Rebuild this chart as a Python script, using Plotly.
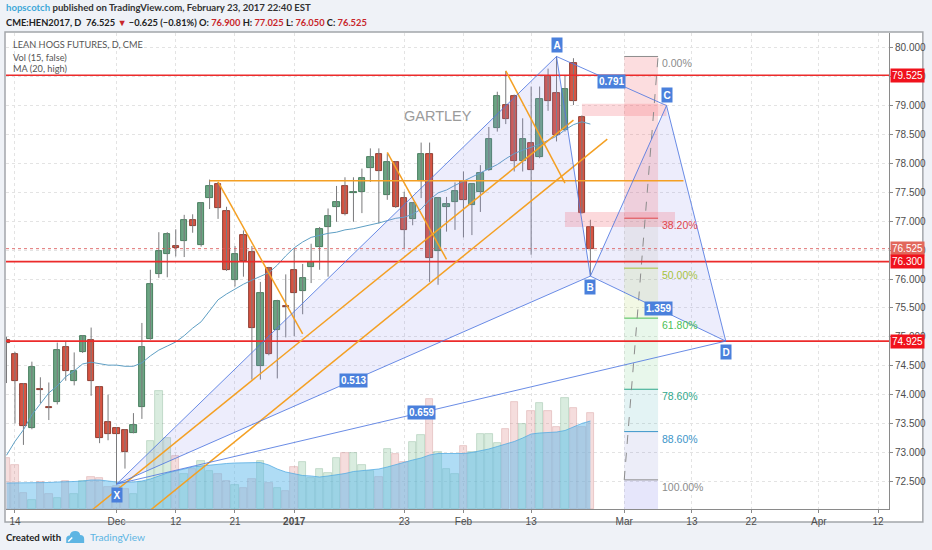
import plotly.graph_objects as go
import pandas as pd

# ---------------------------------------------------------------- data
holidays = ["2016-11-24", "2016-12-26", "2017-01-02", "2017-01-16", "2017-02-20"]
first_day, last_day = "2016-11-11", "2017-02-23"

opens = [74.95, 74.70, 74.18, 73.43, 74.10, 73.78, 73.88, 74.83, 74.24, 74.74,
         74.94, 74.13, 73.52, 73.42, 73.39, 73.34, 73.79, 74.97, 76.08, 76.43,
         76.56, 76.66, 77.02, 76.58, 77.41, 77.64, 77.18, 75.98, 76.76, 76.46,
         74.49, 76.19, 75.11, 75.53, 76.15, 75.80, 76.20, 76.55, 76.90, 77.25,
         77.61, 77.48, 77.51, 77.92, 78.16, 77.45, 78.02, 77.41, 77.03, 77.70,
         78.16, 76.48, 77.25, 77.33, 77.70, 77.28, 77.51, 77.89, 78.62, 79.01,
         79.17, 78.05, 78.36, 78.11, 79.51, 79.21, 78.57, 79.74, 78.81, 76.90]
highs = [75.00, 74.74, 74.20, 74.57, 74.30, 74.21, 74.90, 74.92, 74.73, 75.03,
         75.16, 74.15, 74.00, 73.44, 73.40, 73.68, 75.24, 76.16, 76.81, 76.81,
         76.86, 77.11, 77.12, 77.33, 77.72, 77.68, 77.25, 76.57, 76.84, 76.57,
         75.95, 76.21, 75.64, 76.08, 76.53, 76.26, 76.61, 76.90, 77.22, 77.61,
         77.76, 77.76, 77.91, 78.26, 78.26, 78.17, 78.04, 77.51, 77.33, 78.36,
         78.36, 77.42, 77.42, 77.67, 77.86, 77.65, 77.97, 78.63, 79.24, 79.60,
         79.19, 78.78, 79.33, 79.33, 79.64, 79.85, 79.53, 79.82, 78.83, 77.025]
lows = [74.20, 73.50, 73.13, 73.40, 73.85, 73.56, 73.83, 74.24, 74.16, 74.72,
        73.98, 73.16, 73.21, 72.45, 72.72, 73.33, 73.58, 74.95, 76.02, 76.03,
        76.39, 76.38, 76.80, 76.56, 77.21, 77.04, 76.14, 75.87, 76.04, 74.26,
        74.26, 74.68, 74.28, 74.99, 75.01, 75.39, 75.93, 76.16, 76.04, 76.99,
        77.10, 76.99, 77.14, 77.68, 76.96, 77.37, 77.23, 76.53, 76.93, 77.40,
        75.95, 75.90, 76.82, 76.85, 76.72, 76.76, 77.16, 77.87, 78.55, 78.68,
        77.86, 77.86, 76.42, 78.09, 78.91, 78.38, 78.55, 79.01, 77.13, 76.05]
closes = [74.90, 74.24, 73.46, 74.47, 74.08, 73.76, 74.78, 74.41, 74.40, 75.01,
          74.23, 73.25, 73.31, 73.31, 73.00, 73.47, 74.83, 75.91, 76.48, 76.78,
          76.54, 77.02, 76.92, 77.31, 77.61, 77.22, 76.16, 76.43, 76.31, 75.16,
          75.75, 74.70, 75.62, 75.51, 75.75, 76.01, 76.30, 76.86, 77.09, 77.34,
          77.12, 77.51, 77.74, 78.11, 77.86, 78.02, 77.25, 76.84, 77.31, 78.16,
          76.36, 77.41, 77.30, 77.53, 77.36, 77.64, 77.84, 78.43, 79.17, 78.76,
          78.04, 78.43, 77.89, 79.12, 79.08, 78.49, 79.28, 79.08, 77.15, 76.525]
volume = [5100, 4400, 1560, 930, 2660, 1500, 1100, 2830, 1500, 2760,
          3230, 3100, 2160, 2300, 2000, 1500, 2660, 6830, 11830, 7100,
          5330, 3500, 4000, 4760, 3800, 3500, 2760, 2400, 2100, 3000,
          4800, 2560, 2100, 1760, 4200, 4700, 3100, 4000, 3560, 5100,
          5600, 5600, 4400, 3760, 3230, 5960, 5500, 4700, 6730, 7400,
          11000, 5730, 4000, 3500, 6330, 5660, 7500, 7500, 6560, 8000,
          10700, 8500, 9830, 10600, 9830, 8230, 11100, 10100, 8160, 9560]
vol_ma = [2600, 2600, 2600, 2600, 2650, 2650, 2700, 2700, 2750, 2800,
          2900, 2900, 2800, 2700, 2700, 2700, 2800, 3000, 3300, 3600,
          3800, 4000, 4200, 4300, 4400, 4500, 4550, 4600, 4600, 4650,
          4650, 4400, 4000, 3700, 3500, 3350, 3300, 3200, 3300, 3400,
          3550, 3750, 3850, 3950, 4000, 4200, 4450, 4650, 4900, 5100,
          5400, 5550, 5550, 5550, 5550, 5650, 5800, 6000, 6250, 6500,
          6750, 7100, 7500, 7600, 7650, 7700, 7850, 8200, 8560, 8800]
ma_high = [72.95, 73.19, 73.39, 73.65, 73.84, 74.03, 74.15, 74.31, 74.41, 74.53,
           74.56, 74.53, 74.51, 74.51, 74.49, 74.49, 74.55, 74.67, 74.77, 74.84,
           74.91, 75.02, 75.15, 75.26, 75.45, 75.64, 75.74, 75.83, 75.91, 75.98,
           76.05, 76.11, 76.24, 76.40, 76.54, 76.64, 76.72, 76.76, 76.79, 76.81,
           76.85, 76.87, 76.90, 76.93, 76.97, 77.01, 77.05, 77.07, 77.12, 77.21,
           77.37, 77.49, 77.54, 77.62, 77.69, 77.76, 77.83, 77.90, 77.98, 78.08,
           78.17, 78.23, 78.28, 78.33, 78.40, 78.47, 78.58, 78.67, 78.72, 78.68]

tick_dates = ["2016-11-14", "2016-12-01", "2016-12-12", "2016-12-21", "2017-01-03",
              "2017-01-23", "2017-02-01", "2017-02-13", "2017-03-01", "2017-03-13",
              "2017-03-22", "2017-04-03", "2017-04-12"]
tick_text = ["14", "Dec", "12", "21", "<b>2017</b>", "23", "Feb", "13", "Mar", "13",
             "22", "Apr", "12"]

# gartley XABCD
pt_names = ["X", "A", "B", "C", "D"]
pt_dates = ["2016-12-01", "2017-02-16", "2017-02-23", "2017-03-08", "2017-03-17"]
pt_prices = [72.45, 79.85, 76.05, 79.00, 74.925]
ratio_pairs = [(0, 2), (1, 3), (2, 4), (0, 4)]
ratio_text = ["0.513", "0.791", "1.359", "0.659"]

# fib retracement
fib_dates = ["2017-03-01", "2017-03-07"]
fib_top, fib_bottom = 79.85, 72.525
fib_levels = [0, 0.382, 0.5, 0.618, 0.786, 0.886, 1.0]
fib_names = ["0.00%", "38.20%", "50.00%", "61.80%", "78.60%", "88.60%", "100.00%"]
fib_colors = ["#8c8c8c", "#e0474c", "#a6c23c", "#4cbf55", "#2fa78a", "#3c95c9", "#8c8c8c"]
fib_fills = ["rgba(242,100,110,0.22)", "rgba(170,165,140,0.13)", "rgba(175,210,90,0.16)",
             "rgba(90,200,110,0.14)", "rgba(60,170,175,0.14)", "rgba(100,110,200,0.12)"]

hlines = [79.525, 76.300, 74.925]
last_price = 76.525

orange_lines = [
    ("2016-12-16", 77.70, "2017-03-10", 77.70),
    ("2016-12-19", 77.68, "2017-01-04", 75.05),
    ("2017-01-19", 78.19, "2017-01-30", 76.34),
    ("2017-02-08", 79.60, "2017-02-17", 77.66),
    ("2016-11-28", 71.99, "2017-02-21", 78.75),
    ("2016-12-07", 72.00, "2017-02-27", 78.42),
]
pink_boxes = [
    ("2017-02-22", "2017-03-08", 78.82, 79.03),
    ("2017-02-17", "2017-03-09", 76.90, 77.16),
]

# ---------------------------------------------------------------- calendar
cal = pd.bdate_range("2016-11-01", "2017-04-28")
cal = cal[~cal.isin(pd.to_datetime(holidays))]
origin = cal.get_loc(pd.Timestamp("2016-12-01"))


def pos(d):
    return int(cal.get_loc(pd.Timestamp(d))) - origin


days = cal[(cal >= first_day) & (cal <= last_day)]
xs = [pos(d) for d in days]
assert len(xs) == len(opens) == len(volume) == len(ma_high)

# pixel helpers for paper-placed text
L, R, T, B = 6, 893, 33, 509


def px(x):
    return (x - L) / (R - L)


def py(y):
    return (B - y) / (B - T)


FONT = "Lato"
NUM = "Liberation Sans"
BLUE_LBL = "#4a80dc"
PAT_LINE = "rgba(80,120,225,0.85)"

fig = go.Figure()

# volume (base axis, drawn beneath price)
up = [c >= o for o, c in zip(opens, closes)]
fig.add_trace(go.Bar(
    x=xs, y=volume, width=0.88, yaxis="y",
    marker=dict(color=["rgba(120,185,140,0.28)" if u else "rgba(215,120,120,0.25)" for u in up],
                line=dict(color=["rgba(90,150,110,0.35)" if u else "rgba(190,110,110,0.35)" for u in up],
                          width=0.8)),
    hoverinfo="skip", showlegend=False))
fig.add_trace(go.Scatter(
    x=xs, y=vol_ma, yaxis="y", mode="lines", fill="tozeroy",
    line=dict(color="rgba(80,170,225,0.75)", width=1),
    fillcolor="rgba(95,185,235,0.5)", hoverinfo="skip", showlegend=False))

# candles
wx, wy = [], []
for x, h, l in zip(xs, highs, lows):
    wx += [x, x, None]
    wy += [l, h, None]
fig.add_trace(go.Scatter(x=wx, y=wy, yaxis="y2", mode="lines",
                         line=dict(color="#7a7a7c", width=1),
                         hoverinfo="skip", showlegend=False))
for is_up, fill, edge in [(True, "#6ba583", "#2f6a47"), (False, "#d75442", "#7a2418")]:
    sel = [i for i in range(len(xs)) if up[i] == is_up]
    fig.add_trace(go.Bar(
        x=[xs[i] for i in sel],
        base=[min(opens[i], closes[i]) for i in sel],
        y=[max(abs(closes[i] - opens[i]), 0.025) for i in sel],
        width=0.74, yaxis="y2",
        marker=dict(color=fill, line=dict(color=edge, width=0.8)),
        hoverinfo="skip", showlegend=False))

fig.add_trace(go.Scatter(x=xs, y=ma_high, yaxis="y2", mode="lines",
                         line=dict(color="#5e9fc4", width=1),
                         hoverinfo="skip", showlegend=False))

shapes = []


def dshape(**kw):
    d = dict(xref="x", yref="y2", layer="above")
    d.update(kw)
    shapes.append(d)


# pattern triangles
P = [(pos(d), p) for d, p in zip(pt_dates, pt_prices)]
for a, b, c in [(0, 1, 2), (2, 3, 4)]:
    dshape(type="path",
           path=f"M {P[a][0]},{P[a][1]} L {P[b][0]},{P[b][1]} L {P[c][0]},{P[c][1]} Z",
           fillcolor="rgba(140,140,235,0.16)", line=dict(width=0))

# fib bands
f0, f1 = pos(fib_dates[0]), pos(fib_dates[1])
fib_prices = [fib_top - lv * (fib_top - fib_bottom) for lv in fib_levels]
for i, col in enumerate(fib_fills):
    dshape(type="rect", x0=f0, x1=f1, y0=fib_prices[i + 1], y1=fib_prices[i],
           fillcolor=col, line=dict(width=0))
dshape(type="rect", x0=f0, x1=f1, y0=71.5, y1=fib_bottom,
       fillcolor="rgba(140,140,235,0.22)", line=dict(width=0))

for d0, d1, lo, hi in pink_boxes:
    dshape(type="rect", x0=pos(d0), x1=pos(d1), y0=lo, y1=hi,
           fillcolor="rgba(242,110,120,0.26)", line=dict(width=0))

for p, col in zip(fib_prices, fib_colors):
    dshape(type="line", x0=f0, x1=f1, y0=p, y1=p, line=dict(color=col, width=1))
dshape(type="line", x0=f0, y0=fib_bottom, x1=f1, y1=fib_top,
       line=dict(color="#8c8c8c", width=1, dash="dash"))

# horizontal levels
dshape(type="line", xref="paper", x0=0, x1=1, y0=last_price, y1=last_price,
       line=dict(color="rgba(220,90,90,0.85)", width=1, dash="dot"))
for h in hlines:
    dshape(type="line", xref="paper", x0=0, x1=1, y0=h, y1=h,
           line=dict(color="#ec2b2b", width=1.6))

# orange trend lines
for d0, p0, d1, p1 in orange_lines:
    dshape(type="line", x0=pos(d0), y0=p0, x1=pos(d1), y1=p1,
           line=dict(color="#f4a024", width=1.5))

# pattern legs and ratio lines
for a, b in [(0, 1), (1, 2), (2, 3), (3, 4)] + ratio_pairs:
    dshape(type="line", x0=P[a][0], y0=P[a][1], x1=P[b][0], y1=P[b][1],
           line=dict(color=PAT_LINE, width=1))

# chart frame (paper)
shapes.insert(0, dict(type="rect", xref="paper", yref="paper", layer="below",
                      x0=px(5), x1=px(927), y0=py(522), y1=py(32),
                      fillcolor="white", line=dict(color="#a3a6ab", width=1.5)))


# tradingview logo
def ppath(cmds):
    out = []
    for c, pts in cmds:
        out.append(c + " " + " ".join(f"{px(x):.5f},{py(y):.5f}" for x, y in pts))
    return " ".join(out)


cloud = ppath([("M", [(66.5, 543)]), ("L", [(66.5, 539)]), ("Q", [(66.5, 535.5), (70, 535.5)]),
               ("Q", [(71, 531), (75.5, 531)]), ("Q", [(80, 531), (80.5, 535)]),
               ("Q", [(84.5, 535.2), (84.5, 539)]), ("L", [(84.5, 543)])]) + " Z"
shapes.append(dict(type="path", xref="paper", yref="paper", path=cloud,
                   fillcolor="#5db5e3", line=dict(width=0)))
zig = ppath([("M", [(68.5, 541.5)]), ("L", [(72.5, 537.5), (75.5, 540.5), (81.5, 535.5)])])
shapes.append(dict(type="path", xref="paper", yref="paper", path=zig,
                   line=dict(color="white", width=1.5)))

ann = []

# point labels
for (x, p), name in zip(P, pt_names):
    high_pt = name in ("A", "C")
    ann.append(dict(x=x, y=p, xref="x", yref="y2", text=f"<b>{name}</b>", showarrow=False,
                    yshift=11 if high_pt else -11, bgcolor=BLUE_LBL, borderpad=1.5,
                    font=dict(family=NUM, size=10, color="white")))
for (a, b), t in zip(ratio_pairs, ratio_text):
    ann.append(dict(x=(P[a][0] + P[b][0]) / 2, y=(P[a][1] + P[b][1]) / 2, xref="x", yref="y2",
                    text=f"<b>{t}</b>", showarrow=False, bgcolor=BLUE_LBL, borderpad=1,
                    font=dict(family=NUM, size=10, color="white")))

# fib labels
for p, t, col in zip(fib_prices, fib_names, fib_colors):
    ann.append(dict(x=f1, y=p, xref="x", yref="y2", text=t, showarrow=False,
                    xanchor="left", xshift=2, yshift=-7,
                    font=dict(family=NUM, size=10.5, color=col)))

# price-axis boxes
for h, col in [(79.525, "#f0121c"), (last_price, "#e2685c"), (76.300, "#f0121c"), (74.925, "#f0121c")]:
    ann.append(dict(x=px(894), y=h, xref="paper", yref="y2", text=f"{h:.3f}", showarrow=False,
                    xanchor="left", yanchor="middle", bgcolor=col, borderpad=1,
                    font=dict(family=NUM, size=10, color="white")))


def ptext(x, y, text, size, color, anchor="left", weight="normal", family=FONT):
    ann.append(dict(x=px(x), y=py(y), xref="paper", yref="paper", text=text, showarrow=False,
                    xanchor=anchor, yanchor="middle",
                    font=dict(family=family, size=size, color=color, weight=weight)))


ptext(440, 116, "GARTLEY", 14.5, "#9b9b9b", anchor="center", family=NUM)

for y, t in [(44, "LEAN HOGS FUTURES, D, CME"), (57, "Vol (15, false)"), (69, "MA (20, high)")]:
    ptext(11, y, t, 9.2, "#555555")

RED = "#c8262b"
ptext(4, 8, "<span style='color:#3fa8d8'>hopscotch</span> published on TradingView.com, "
            "February 23, 2017 22:40 EST", 9.6, "#333333", weight="bold")
ptext(4, 22, f"CME:HEN2017, D  76.525 <span style='color:{RED}'>▼</span> −0.625 (−0.81%) "
             f"O: <span style='color:{RED}'>76.900</span> H: <span style='color:{RED}'>77.025</span> "
             f"L: <span style='color:{RED}'>76.050</span> C: <span style='color:{RED}'>76.525</span>",
      9.3, "#222222", weight="bold")
ptext(4, 537, "Created with", 9.6, "#222222", weight="bold")
ptext(88, 537, "TradingView", 10.2, "#5db5e3")

fig.update_layout(
    width=932, height=550,
    margin=dict(l=L, r=932 - R, t=T, b=550 - B),
    paper_bgcolor="#eff2f7", plot_bgcolor="white",
    barmode="overlay", bargap=0, showlegend=False,
    shapes=shapes, annotations=ann,
    xaxis=dict(range=[-13.06, 91.29], tickvals=[pos(d) for d in tick_dates], ticktext=tick_text,
               showgrid=True, gridcolor="#e3e3e3", griddash="dot", zeroline=False,
               showline=True, linecolor="#8a8a8a", linewidth=1,
               ticks="outside", ticklen=3, tickcolor="#8a8a8a",
               tickfont=dict(family=NUM, size=10, color="#4d4d4d")),
    yaxis=dict(range=[0, 47600], visible=False, fixedrange=True),
    yaxis2=dict(overlaying="y", side="right", range=[72.021, 80.256],
                tick0=0, dtick=0.5, tickformat=".3f",
                showgrid=True, gridcolor="#e3e3e3", griddash="dot", zeroline=False,
                showline=True, linecolor="#8a8a8a", linewidth=1,
                ticks="outside", ticklen=3, tickcolor="#8a8a8a",
                tickfont=dict(family=NUM, size=10, color="#4d4d4d")),
)

# page body has a default 8px margin; remove it so the figure sits at the window origin
fig.write_html("out.html", config={"displayModeBar": False},
               post_script="document.body.style.margin='0';"
                           "document.body.style.overflow='hidden';")
